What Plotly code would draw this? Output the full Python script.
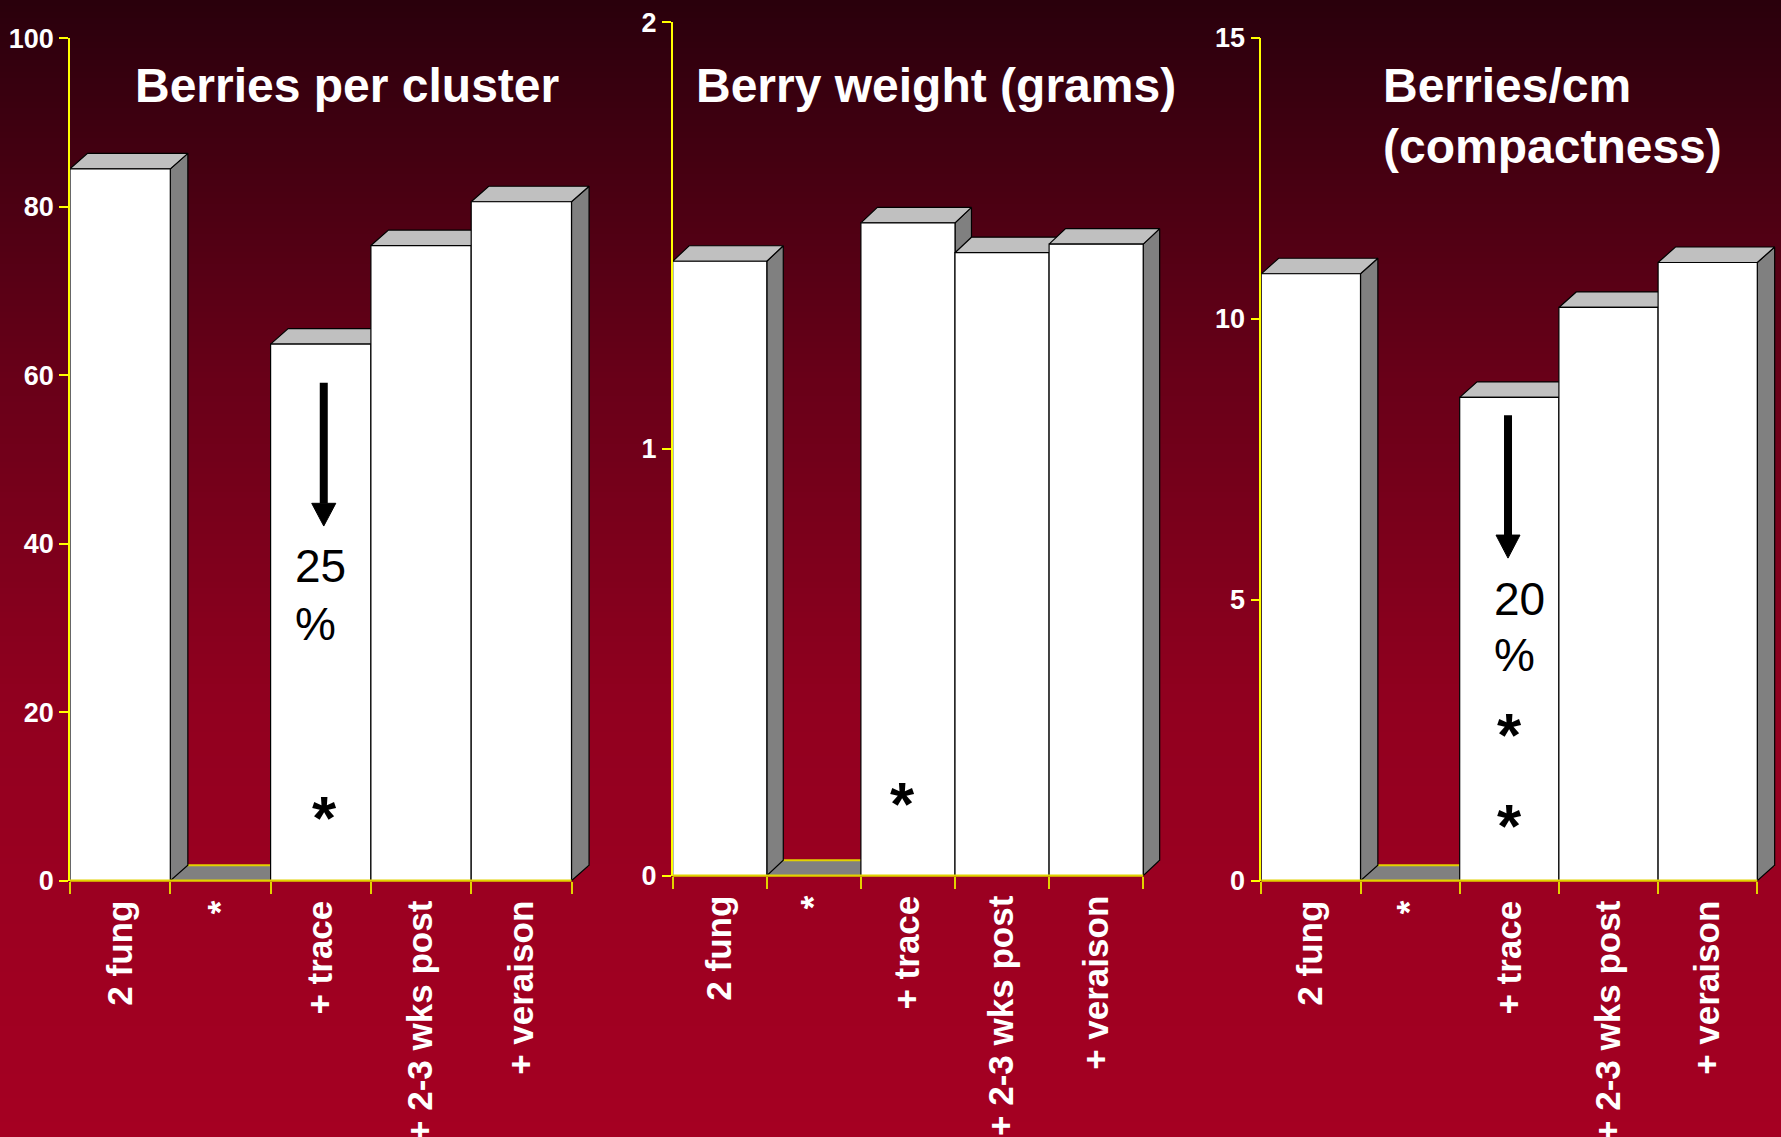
import plotly.graph_objects as go

# ---------------------------------------------------------------- data
categories = ["2 fung", "*", "+ trace", "+ 2-3 wks post", "+ veraison"]

berries_per_cluster = [84.5, 0, 63.7, 75.4, 80.6]
berry_weight_g = [1.44, 0, 1.53, 1.46, 1.48]
berries_per_cm = [10.8, 0, 8.6, 10.2, 11.0]

ticks_cluster = [0, 20, 40, 60, 80, 100]
ticks_weight = [0, 1, 2]
ticks_cm = [0, 5, 10, 15]

title_cluster = "Berries per cluster"
title_weight = "Berry weight (grams)"
title_cm_lines = ["Berries/cm", "(compactness)"]

# ---------------------------------------------------------------- style
W, H = 1781, 1137
DX = 0.175          # bar depth, in category widths
DY_PX = 15.5        # bar depth, in pixels (vertical)
FRONT, TOP, SIDE, FLOOR = "#ffffff", "#c0c0c0", "#808080", "#808080"
EDGE = "#000000"
Y_YELLOW = "#ffff00"
X_YELLOW = "#e2d200"
SANS = "Liberation Sans, Arial, sans-serif"

# panel geometry in pixels: left edge of axis, category width, y of zero, y of axis max
panels = [
    dict(left=70.0, catw=100.3, y0=880.7, ytop=38.3),
    dict(left=672.7, catw=94.1, y0=875.7, ytop=22.3),
    dict(left=1261.3, catw=99.2, y0=880.7, ytop=37.7),
]
series = [berries_per_cluster, berry_weight_g, berries_per_cm]
yticks = [ticks_cluster, ticks_weight, ticks_cm]

X_PAD = 0.03
n = len(categories)

fig = go.Figure()

# background: vertical gradient built from thin horizontal strips
stops = [(0.0, (42, 0, 12)), (0.33, (104, 0, 24)), (0.62, (145, 0, 31)),
         (0.8, (156, 0, 33)), (1.0, (165, 0, 34))]


def grad(t):
    for (t0, c0), (t1, c1) in zip(stops[:-1], stops[1:]):
        if t <= t1:
            f = (t - t0) / (t1 - t0)
            return "rgb(%d,%d,%d)" % tuple(round(a + (b - a) * f) for a, b in zip(c0, c1))
    return "rgb(%d,%d,%d)" % stops[-1][1]


shapes = []
STRIP = 6
for top in range(0, H, STRIP):
    t = (top + STRIP / 2) / H
    shapes.append(dict(type="rect", xref="paper", yref="paper", layer="below",
                       x0=0, x1=1, y0=1 - (top + STRIP + 1) / H, y1=1 - top / H,
                       fillcolor=grad(t), line=dict(width=0)))


def poly(xs, ys, fill, xa, ya, color=EDGE, width=1.2):
    fig.add_trace(go.Scatter(x=xs, y=ys, mode="lines", fill="toself", fillcolor=fill,
                             line=dict(color=color, width=width), xaxis=xa, yaxis=ya,
                             hoverinfo="skip", showlegend=False))


layout_axes = {}
for k, (geo, vals, yt) in enumerate(zip(panels, series, yticks), start=1):
    xa, ya = ("x", "y") if k == 1 else (f"x{k}", f"y{k}")
    ymax = yt[-1]
    dy = DY_PX * ymax / (geo["y0"] - geo["ytop"])
    xmax = n - 0.5 + DX + X_PAD

    # chart floor, seen only where a bar is missing
    poly([-0.5, n - 0.5, n - 0.5 + DX, -0.5 + DX, -0.5], [0, 0, dy, dy, 0], FLOOR, xa, ya, width=0)
    fig.add_trace(go.Scatter(x=[-0.5 + DX, n - 0.5 + DX], y=[dy, dy], mode="lines",
                             line=dict(color=X_YELLOW, width=2), xaxis=xa, yaxis=ya,
                             hoverinfo="skip", showlegend=False))

    # 3-D bars, painted left to right: side, top, front
    for i, v in enumerate(vals):
        if v <= 0:
            continue
        l, r = i - 0.5, i + 0.5
        poly([r, r + DX, r + DX, r, r], [0, dy, v + dy, v, 0], SIDE, xa, ya)
        poly([l, r, r + DX, l + DX, l], [v, v, v + dy, v + dy, v], TOP, xa, ya)
        poly([l, r, r, l, l], [0, 0, v, v, 0], FRONT, xa, ya)

    x0p = geo["left"] / W
    x1p = (geo["left"] + geo["catw"] * (xmax + 0.5)) / W
    y0p = 1 - geo["y0"] / H
    y1p = 1 - geo["ytop"] / H

    layout_axes["xaxis" if k == 1 else f"xaxis{k}"] = dict(
        domain=[x0p, x1p], range=[-0.5, xmax], anchor=ya, automargin=False,
        showgrid=False, zeroline=False, showline=False,
        tickmode="array", tickvals=list(range(n)), ticktext=categories,
        ticks="outside", ticklen=5, tickcolor="rgba(0,0,0,0)", tickangle=-90,
        tickfont=dict(family=SANS, size=35, color="white", weight="bold"),
        minor=dict(tickmode="array", tickvals=[i - 0.5 for i in range(n + 1)],
                   ticks="outside", ticklen=12, tickwidth=1.5, tickcolor=X_YELLOW,
                   showgrid=False),
        fixedrange=True,
    )
    layout_axes["yaxis" if k == 1 else f"yaxis{k}"] = dict(
        domain=[y0p, y1p], range=[0, ymax], anchor=xa, automargin=False,
        showgrid=False, zeroline=False,
        showline=True, linecolor=Y_YELLOW, linewidth=1.5,
        tickmode="array", tickvals=yt, ticks="outside", ticklen=9,
        tickwidth=1.5, tickcolor=Y_YELLOW, ticklabelstandoff=0,
        tickfont=dict(family=SANS, size=27, color="white", weight="bold"),
        fixedrange=True,
    )

    # x axis line along the front of the floor
    shapes.append(dict(type="line", xref="paper", yref="paper", layer="above",
                       x0=x0p, x1=(geo["left"] + geo["catw"] * n) / W,
                       y0=y0p, y1=y0p, line=dict(color=X_YELLOW, width=2.2)))

# arrows marking the reduction on the "+ trace" bars
arrows = [
    dict(xa="x", ya="y", x=2.03, top=59.1, base=44.8, tip=42.1, half=0.12),
    dict(xa="x3", ya="y3", x=1.987, top=8.28, base=6.15, tip=5.74, half=0.121),
]
for a in arrows:
    shapes.append(dict(type="line", xref=a["xa"], yref=a["ya"], x0=a["x"], x1=a["x"],
                       y0=a["top"], y1=a["base"], line=dict(color="black", width=8)))
    shapes.append(dict(type="path", xref=a["xa"], yref=a["ya"], fillcolor="black",
                       line=dict(color="black", width=1),
                       path=f"M {a['x'] - a['half']},{a['base']} L {a['x'] + a['half']},{a['base']} "
                            f"L {a['x']},{a['tip']} Z"))

annotations = []


def note(text, x, y, xref, yref, size, color, weight="normal", xanchor="center"):
    annotations.append(dict(text=text, x=x, y=y, xref=xref, yref=yref, showarrow=False,
                            xanchor=xanchor, yanchor="middle",
                            font=dict(family=SANS, size=size, color=color, weight=weight)))


# titles
note(title_cluster, 347 / W, 1 - 85.5 / H, "paper", "paper", 48, "white", "bold")
note(title_weight, 936 / W, 1 - 85.5 / H, "paper", "paper", 48, "white", "bold")
note(title_cm_lines[0], 1381 / W, 1 - 86 / H, "paper", "paper", 48, "white", "bold", "left")
note(title_cm_lines[1], 1381 / W, 1 - 146.5 / H, "paper", "paper", 48, "white", "bold", "left")

# percentage labels
note("25", 1.72, 37.3, "x", "y", 46, "black", xanchor="left")
note("%", 1.72, 30.5, "x", "y", 46, "black", xanchor="left")
note("20", 1.83, 5.02, "x3", "y3", 46, "black", xanchor="left")
note("%", 1.83, 4.02, "x3", "y3", 46, "black", xanchor="left")

# significance asterisks
note("*", 2.04, 7.55, "x", "y", 62, "black", "bold")
note("*", 1.94, 0.169, "x2", "y2", 62, "black", "bold")
note("*", 2.0, 2.60, "x3", "y3", 62, "black", "bold")
note("*", 2.0, 0.98, "x3", "y3", 62, "black", "bold")

fig.update_layout(
    width=W, height=H, margin=dict(l=0, r=0, t=0, b=0, autoexpand=False),
    paper_bgcolor="rgb(165,0,34)", plot_bgcolor="rgba(0,0,0,0)",
    showlegend=False, shapes=shapes, annotations=annotations,
    **layout_axes,
)

fig.write_html("out.html")
